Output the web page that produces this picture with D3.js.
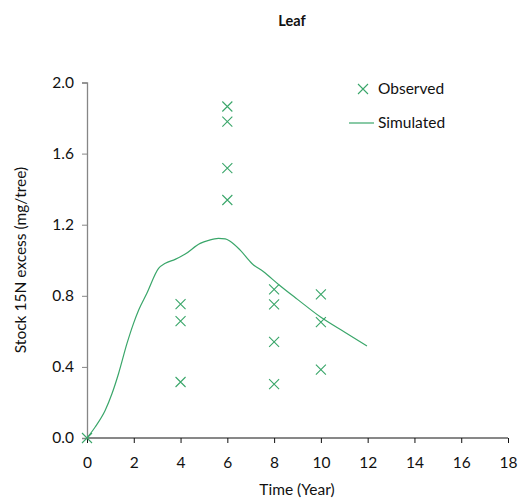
<!DOCTYPE html>
<html><head><meta charset="utf-8">
<script src="https://cdnjs.cloudflare.com/ajax/libs/d3/7.8.5/d3.min.js"></script>
<style>body{margin:0;background:#fff}svg{display:block}text{font-family:Lato,"Open Sans",sans-serif;fill:#111}</style>
</head><body><svg id="c" width="524" height="501"></svg>
<script>
const title = "Leaf";
const xLabel = "Time (Year)";
const yLabel = "Stock 15N excess (mg/tree)";
const xTicks = [0,2,4,6,8,10,12,14,16,18];
const yTicks = [0.0,0.4,0.8,1.2,1.6,2.0];
const obsTime  = [0, 4,4,4, 6,6,6,6, 8,8,8,8, 10,10,10];
const obsValue = [0, 0.753,0.657,0.315, 1.865,1.780,1.518,1.339, 0.836,0.752,0.541,0.303, 0.808,0.652,0.385];
const simTime  = [0,0.35,0.78,1.07,1.35,1.71,1.99,2.21,2.56,3.06,3.35,3.77,4.2,4.84,5.2,5.62,5.91,6.12,6.55,7.05,7.55,8.19,9,9.97,11.04,11.97];
const simValue = [0,0.062,0.156,0.25,0.363,0.532,0.645,0.72,0.814,0.954,0.983,1.005,1.035,1.095,1.112,1.123,1.12,1.107,1.057,0.982,0.935,0.864,0.78,0.682,0.594,0.518];
const legendLabels = ["Observed","Simulated"];
const green = "#3aa66a";
const fs = "15.5px";

const svg = d3.select("#c");
const x = d3.scaleLinear().domain([0,18]).range([87,508]);
const y = d3.scaleLinear().domain([0,2]).range([438,82.5]);

svg.append("text").attr("x",292).attr("y",26).attr("text-anchor","middle")
  .style("font-weight","bold").style("font-size","14.5px").text(title);

// y axis
const ya = svg.append("g").attr("transform","translate(87,0)")
  .call(d3.axisLeft(y).tickValues(yTicks).tickFormat(d3.format(".1f")).tickSize(5).tickPadding(8));
ya.select(".domain").attr("stroke","#868686").attr("stroke-width",1.3);
ya.selectAll(".tick line").attr("stroke","#868686");
ya.selectAll(".tick text").style("font-size",fs).style("font-family","Lato,sans-serif").attr("fill","#111");

// x axis
const xa = svg.append("g").attr("transform","translate(0,438)")
  .call(d3.axisBottom(x).tickValues(xTicks).tickSize(5).tickPadding(14));
xa.select(".domain").attr("stroke","#111").attr("d","M87,0H508");
xa.selectAll(".tick line").attr("stroke","#111");
xa.selectAll(".tick text").style("font-size",fs).style("font-family","Lato,sans-serif").attr("fill","#111");

svg.append("text").attr("x",297).attr("y",495).attr("text-anchor","middle").style("font-size",fs).text(xLabel);
svg.append("text").attr("transform","translate(26,260) rotate(-90)").attr("text-anchor","middle").style("font-size",fs).text(yLabel);

// simulated line
const sim = simTime.map((t,i)=>[t,simValue[i]]);
svg.append("path").datum(sim).attr("fill","none").attr("stroke",green).attr("stroke-width",1.2)
  .attr("d",d3.line().x(d=>x(d[0])).y(d=>y(d[1])).curve(d3.curveMonotoneX));

// observed markers
const s = 5;
const cross = (cx,cy)=>`M${cx-s},${cy-s}L${cx+s},${cy+s}M${cx-s},${cy+s}L${cx+s},${cy-s}`;
svg.append("g").selectAll("path").data(obsTime.map((t,i)=>[t,obsValue[i]])).join("path")
  .attr("d",d=>cross(x(d[0]),y(d[1]))).attr("stroke",green).attr("stroke-width",1.1).attr("fill","none");

// legend
svg.append("path").attr("d",cross(363,89)).attr("stroke",green).attr("stroke-width",1.1);
svg.append("text").attr("x",378).attr("y",94).style("font-size",fs).text(legendLabels[0]);
svg.append("line").attr("x1",349).attr("x2",374).attr("y1",123).attr("y2",123).attr("stroke",green).attr("stroke-width",1.2);
svg.append("text").attr("x",378).attr("y",128).style("font-size",fs).text(legendLabels[1]);
</script></body></html>
